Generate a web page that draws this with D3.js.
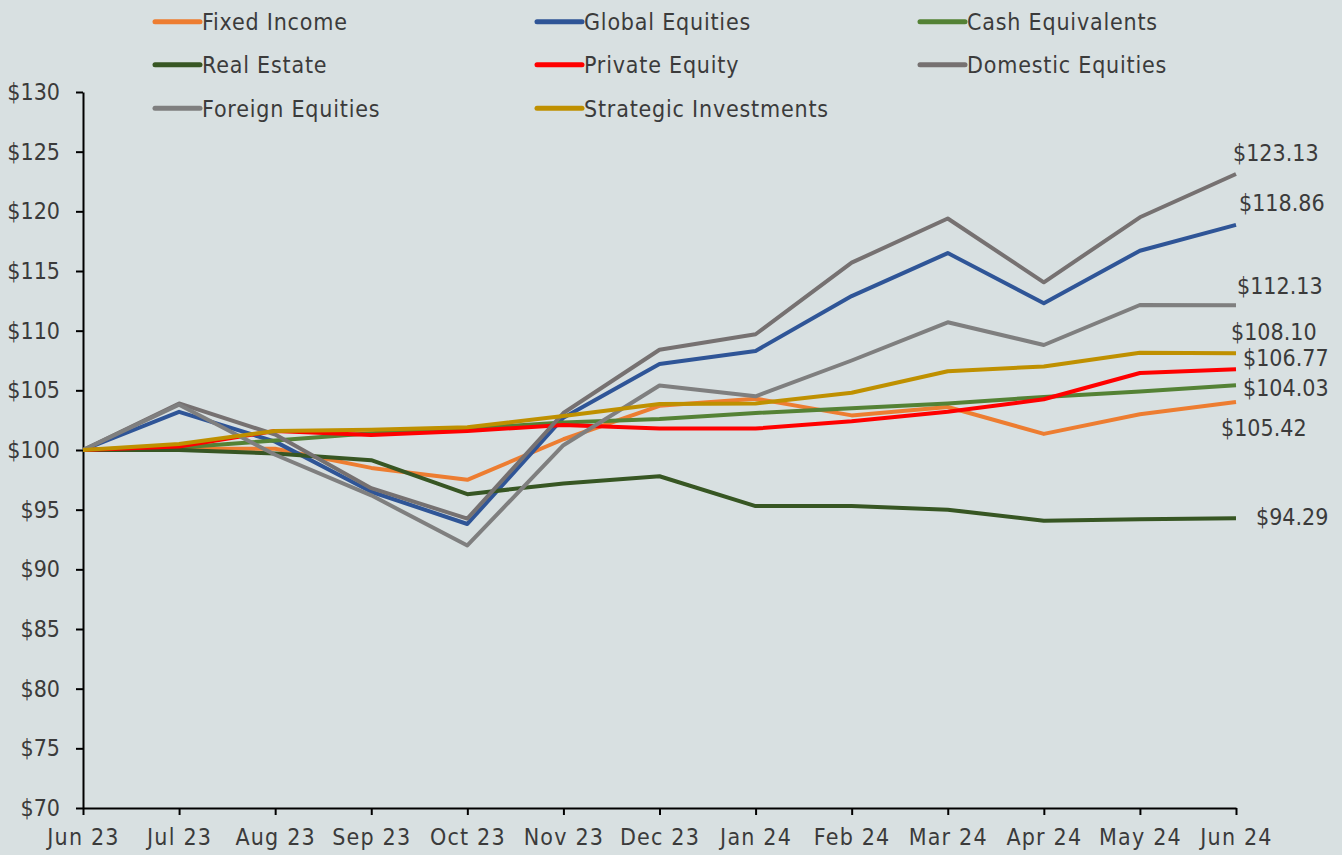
<!DOCTYPE html>
<html>
<head>
<meta charset="utf-8">
<script src="https://cdn.jsdelivr.net/npm/d3@7"></script>
<style>
  html, body { margin: 0; padding: 0; background: #d8e0e1; }
  svg { display: block; font-family: "DejaVu Sans Condensed", "DejaVu Sans", sans-serif; }
</style>
</head>
<body>
<div class="vis-linechart"></div>
<script>
const months = ["Jun 23", "Jul 23", "Aug 23", "Sep 23", "Oct 23", "Nov 23", "Dec 23",
                "Jan 24", "Feb 24", "Mar 24", "Apr 24", "May 24", "Jun 24"];

const fixedIncome          = [100, 100.1, 100.1, 98.5, 97.5, 100.9, 103.7, 104.3, 102.9, 103.6, 101.35, 103.0, 104.03];
const globalEquities       = [100, 103.2, 100.7, 96.5, 93.8, 102.7, 107.2, 108.3, 112.9, 116.5, 112.3, 116.7, 118.86];
const cashEquivalents      = [100, 100.2, 100.8, 101.4, 101.8, 102.3, 102.6, 103.1, 103.5, 103.9, 104.45, 104.9, 105.42];
const realEstate           = [100, 100.0, 99.7, 99.15, 96.3, 97.2, 97.8, 95.3, 95.3, 95.0, 94.07, 94.2, 94.29];
const privateEquity        = [100, 100.3, 101.6, 101.25, 101.6, 102.1, 101.8, 101.8, 102.4, 103.2, 104.25, 106.45, 106.77];
const domesticEquities     = [100, 103.9, 101.3, 96.8, 94.25, 103.1, 108.4, 109.7, 115.7, 119.4, 114.05, 119.5, 123.13];
const foreignEquities      = [100, 103.8, 99.6, 96.2, 92.0, 100.4, 105.4, 104.5, 107.5, 110.7, 108.8, 112.15, 112.13];
const strategicInvestments = [100, 100.5, 101.6, 101.7, 101.9, 102.85, 103.85, 103.9, 104.8, 106.6, 107.0, 108.15, 108.10];

const yTicks = [70, 75, 80, 85, 90, 95, 100, 105, 110, 115, 120, 125, 130];

// legend order = draw order
const series = [
    {name: "Fixed Income",          values: fixedIncome,          color: "#ed7d31"},
    {name: "Global Equities",       values: globalEquities,       color: "#2f5597"},
    {name: "Cash Equivalents",      values: cashEquivalents,      color: "#548235"},
    {name: "Real Estate",           values: realEstate,           color: "#375623"},
    {name: "Private Equity",        values: privateEquity,        color: "#ff0000"},
    {name: "Domestic Equities",     values: domesticEquities,     color: "#767171"},
    {name: "Foreign Equities",      values: foreignEquities,      color: "#7f7f7f"},
    {name: "Strategic Investments", values: strategicInvestments, color: "#bf9000"}
];

// where the end-value labels sit, relative to the last point
const labelOffset = {
    "Fixed Income":          [7, -14],
    "Global Equities":       [3, -22],
    "Cash Equivalents":      [-15, 42],
    "Real Estate":           [20, -1],
    "Private Equity":        [7, -11],
    "Domestic Equities":     [-3, -21],
    "Foreign Equities":      [1, -20],
    "Strategic Investments": [-5, -22]
};

const draw = () => {
    const width = 1342, height = 855;
    const margin = {top: 92, right: 106, bottom: 47, left: 83};
    const textColor = "#3b3b3b";

    const svg = d3.select('.vis-linechart')
        .append('svg')
        .attr("width", width)
        .attr("height", height);

    svg.append("rect")
        .attr("width", width).attr("height", height)
        .attr("fill", "#d8e0e1");

    const x = d3.scalePoint()
        .domain(months)
        .range([margin.left, width - margin.right]);

    const y = d3.scaleLinear()
        .domain([70, 130])
        .range([height - margin.bottom, margin.top]);

    // y axis
    const yAxis = svg.append("g")
        .attr("transform", `translate(${margin.left},0)`)
        .call(d3.axisLeft(y).tickValues(yTicks).tickSize(7).tickSizeOuter(0).tickPadding(16)
            .tickFormat(d => "$" + d));

    // x axis
    const xAxis = svg.append("g")
        .attr("transform", `translate(0,${height - margin.bottom})`)
        .call(d3.axisBottom(x).tickSize(7).tickSizeOuter(0).tickPadding(14));

    [yAxis, xAxis].forEach(a => {
        a.select(".domain").attr("stroke", "#000").attr("stroke-width", 2);
        a.selectAll(".tick line").attr("stroke", "#000").attr("stroke-width", 2);
        a.selectAll(".tick text")
            .attr("fill", textColor)
            .style("font-size", "23px")
            .style("font-family", '"DejaVu Sans Condensed", "DejaVu Sans", sans-serif');
    });
    xAxis.selectAll(".tick text").style("letter-spacing", "1.2px");

    // lines
    const line = d3.line()
        .x((d, i) => x(months[i]))
        .y(d => y(d));

    svg.append("g")
        .attr("fill", "none")
        .attr("stroke-width", 4)
        .attr("stroke-linejoin", "round")
        .selectAll("path")
        .data(series)
        .join("path")
        .attr("stroke", d => d.color)
        .attr("d", d => line(d.values));

    // end labels
    const last = months.length - 1;
    svg.append("g")
        .selectAll("text")
        .data(series)
        .join("text")
        .attr("x", d => x(months[last]) + labelOffset[d.name][0])
        .attr("y", d => y(d.values[last]) + labelOffset[d.name][1])
        .attr("dy", "0.36em")
        .attr("fill", textColor)
        .style("font-size", "23px")
        .text(d => "$" + d3.format(".2f")(d.values[last]));

    // legend: 3 columns
    const colX = [155, 537, 920];
    const rowY = [21.7, 64.7, 108.3];
    const legend = svg.append("g")
        .selectAll("g")
        .data(series)
        .join("g")
        .attr("transform", (d, i) => `translate(${colX[i % 3]},${rowY[Math.floor(i / 3)]})`);

    legend.append("line")
        .attr("x1", 0).attr("x2", 45)
        .attr("stroke", d => d.color)
        .attr("stroke-width", 5)
        .attr("stroke-linecap", "round");

    legend.append("text")
        .attr("x", 47)
        .attr("dy", "0.36em")
        .attr("fill", textColor)
        .style("font-size", "23px")
        .style("letter-spacing", "0.8px")
        .text(d => d.name);
}

draw();
</script>
</body>
</html>
